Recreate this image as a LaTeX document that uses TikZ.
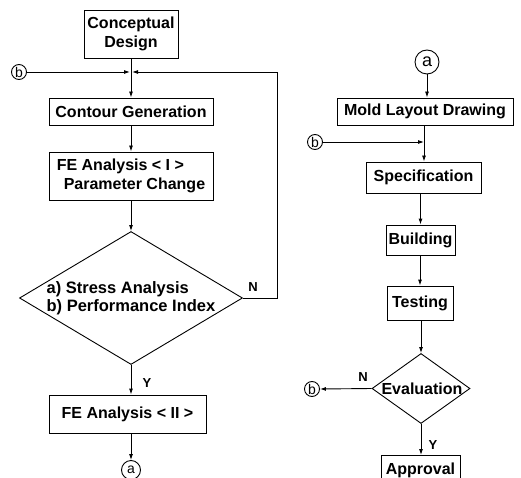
\documentclass[tikz,border=0pt]{standalone}
\usepackage{fontspec}
\setmainfont{Liberation Sans}
\usetikzlibrary{arrows.meta,shapes.geometric}
\begin{document}
\begin{tikzpicture}[x=1pt,y=-1pt,
  every node/.style={font=\fontsize{16}{19}\selectfont\bfseries},
  box/.style={draw,line width=0.9pt,inner sep=0pt,align=center},
  dec/.style={draw,line width=0.9pt,diamond,inner sep=0pt},
  conn/.style={draw,circle,line width=0.9pt,inner sep=0pt,font=\fontsize{14}{14}\selectfont},
  lbl/.style={inner sep=0pt,font=\fontsize{13}{14}\selectfont\bfseries},
  arr/.style={line width=0.9pt,-{Latex[length=6pt,width=4pt]}},
  ln/.style={line width=0.9pt}]
\useasboundingbox (0,0) rectangle (521,478);
% left column
\node[box,minimum width=94pt,minimum height=48pt] (cd) at (131,34) {Conceptual\\Design};
\node[box,minimum width=164pt,minimum height=27pt] (cg) at (131,111.5) {Contour Generation};
\node[box,minimum width=164pt,minimum height=48pt,align=left] (fe1) at (131,176) {FE Analysis {<} I {>}\\\hspace*{7pt}Parameter Change};
\node[dec,minimum width=223pt,minimum height=133pt] (d1) at (131,298) {};
\node[lbl,align=left,font=\fontsize{16.5}{18}\selectfont\bfseries] (d1t) at (131,298.5) {a)\ Stress Analysis\\b)\ Performance Index};
\node[box,minimum width=157pt,minimum height=38pt] (fe2) at (127.5,414) {FE Analysis {<} II {>}};
\node[conn,minimum size=19pt] (a1) at (131,470) {a};
\node[conn,minimum size=15pt] (b1) at (19,72) {b};
\coordinate (j1) at (131,72);
\coordinate (r1) at (277,72);
\coordinate (r2) at (277,298);
\node[lbl] (n1) at (253,287) {N};
\node[lbl] (y1) at (147,383) {Y};
\draw[ln] (cd.south) -- (j1);
\draw[arr] (b1.east) -- ([xshift=-1pt]j1);
\draw[arr] (d1.east) -- (r2) -- (r1) -- ([xshift=1pt]j1);
\draw[arr] (j1) -- (cg.north);
\draw[arr] (cg.south) -- (fe1.north);
\draw[arr] (fe1.south) -- (d1.north);
\draw[arr] (d1.south) -- (d1.south |- fe2.north);
\draw[arr] (fe2.south -| a1.north) -- (a1.north);
% right column
\node[conn,minimum size=24pt] (a2) at (427,62) {\fontsize{18}{18}\selectfont a};
\node[box,minimum width=176pt,minimum height=27pt] (mld) at (425,111.5) {Mold Layout Drawing};
\node[box,minimum width=115pt,minimum height=31pt] (sp) at (423.5,177.5) {Specification};
\node[box,minimum width=69pt,minimum height=30pt] (bu) at (420.5,240) {Building};
\node[box,minimum width=66pt,minimum height=34pt] (te) at (420,303) {Testing};
\node[dec,minimum width=98pt,minimum height=70pt] (d2) at (421,388.5) {};
\node[lbl,font=\fontsize{16}{18}\selectfont\bfseries] (d2t) at (422,389) {Evaluation};
\node[box,minimum width=79pt,minimum height=30pt,anchor=north] (ap) at (420.5,455) {Approval};
\node[conn,minimum size=15pt] (b2) at (315,142) {b};
\node[conn,minimum size=15pt] (b3) at (312,389) {b};
\coordinate (j2) at (424,142);
\node[lbl] (n2) at (363,377) {N};
\node[lbl] (y2) at (433,445) {Y};
\draw[arr] (a2.south) -- (a2.south |- mld.north);
\draw[ln] (mld.south -| j2) -- (j2);
\draw[arr] (b2.east) -- (j2);
\draw[arr] (j2) -- (j2 |- sp.north);
\draw[arr] (sp.south -| bu.north) -- (bu.north);
\draw[arr] (bu.south -| te.north) -- (te.north);
\draw[arr] (te.south -| d2.north) -- (d2.north);
\draw[arr] (d2.west) -- (b3.east);
\draw[arr] (d2.south) -- (d2.south |- ap.north);
\end{tikzpicture}
\end{document}
